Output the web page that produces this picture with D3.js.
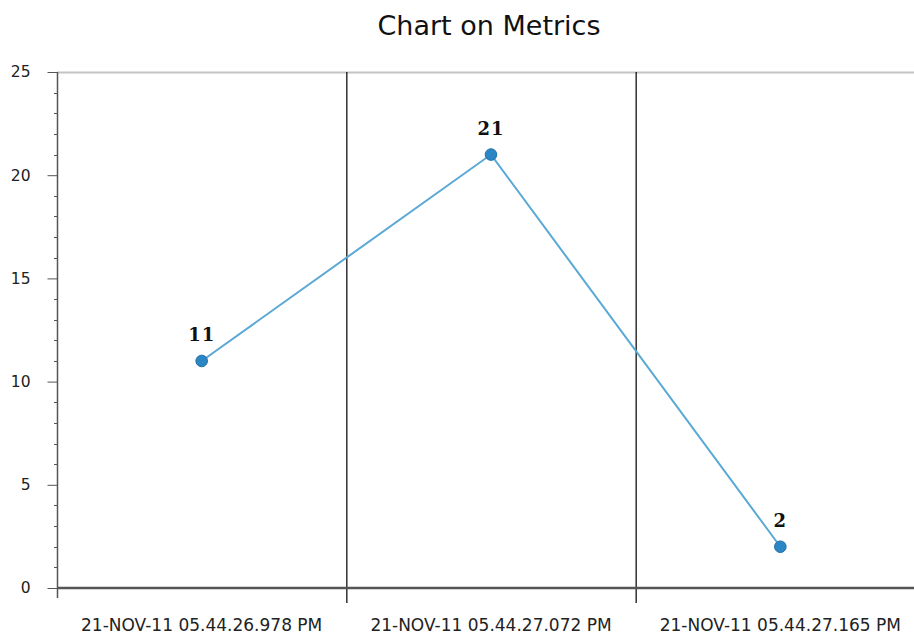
<!DOCTYPE html>
<html><head><meta charset="utf-8">
<script src="https://cdn.jsdelivr.net/npm/d3@7"></script>
<style>body{margin:0;background:#fff}svg{display:block}</style>
</head><body>
<svg id="c" width="914" height="637"></svg>
<script>
const categories = ["21-NOV-11 05.44.26.978 PM","21-NOV-11 05.44.27.072 PM","21-NOV-11 05.44.27.165 PM"];
const values = [11, 21, 2];
const yTicks = [0,5,10,15,20,25];
const title = "Chart on Metrics";

const svg = d3.select("#c");
const mLeft = 57, mRight = 925, mTop = 72, mBottom = 588;
const x = d3.scaleBand().domain(categories).range([mLeft, mRight]).paddingInner(0).paddingOuter(0);
const y = d3.scaleLinear().domain([0,25]).range([mBottom, mTop]);
const font = "'DejaVu Sans', Verdana, sans-serif";

svg.append("text").attr("x", 489).attr("y", 35).attr("text-anchor","middle")
  .attr("font-family", font).attr("font-size", 27).attr("fill","#111").text(title);

// top gray border
svg.append("line").attr("x1", mLeft).attr("x2", 914).attr("y1", mTop+0.5).attr("y2", mTop+0.5)
  .attr("stroke","#c4c4c4").attr("stroke-width",2);

// category dividers
const bounds = categories.slice(1).map(c => x(c));
svg.selectAll(".div").data(bounds).enter().append("line")
  .attr("x1", d=>d+0.5).attr("x2", d=>d+0.5).attr("y1", mTop).attr("y2", mBottom+15)
  .attr("stroke","#111").attr("stroke-width",1.3);

// y axis minor ticks
const minor = d3.range(0,26).filter(v => v%5!==0);
svg.selectAll(".mn").data(minor).enter().append("line")
  .attr("x1", mLeft-3).attr("x2", mLeft).attr("y1", d=>Math.round(y(d))+0.5).attr("y2", d=>Math.round(y(d))+0.5)
  .attr("stroke","#555").attr("stroke-width",1);

const yAxis = d3.axisLeft(y).tickValues(yTicks).tickSize(10).tickPadding(17).tickFormat(d3.format("d"));
const gy = svg.append("g").attr("transform", `translate(${mLeft+0.5},0)`).call(yAxis);
gy.select(".domain").attr("stroke","#555").attr("stroke-width",1.5).attr("d", `M0,${mTop}V${mBottom+10}`);
gy.selectAll(".tick line").attr("stroke","#555");
gy.selectAll("text").attr("font-family", font).attr("font-size", 15.5).attr("fill","#222");

// x axis
const xAxis = d3.axisBottom(x).tickSize(0).tickPadding(31);
const gx = svg.append("g").attr("transform", `translate(0,${mBottom})`).call(xAxis);
gx.select(".domain").remove();
gx.selectAll("text").attr("font-family", font).attr("font-size", 17).attr("fill","#222");
svg.append("line").attr("x1", mLeft).attr("x2", 914).attr("y1", mBottom).attr("y2", mBottom)
  .attr("stroke","#555").attr("stroke-width",2.5);

// series
const cx = d => x(d) + x.bandwidth()/2;
const line = d3.line().x((d,i)=>cx(categories[i])).y(d=>y(d));
svg.append("path").datum(values).attr("d", line).attr("fill","none")
  .attr("stroke","#59a8d6").attr("stroke-width",2);
svg.selectAll(".pt").data(values).enter().append("circle")
  .attr("cx",(d,i)=>cx(categories[i])).attr("cy", d=>y(d)).attr("r",5.8)
  .attr("fill","#2b86c4").attr("stroke","#1f6fa6").attr("stroke-width",1);
svg.selectAll(".lb").data(values).enter().append("text")
  .attr("x",(d,i)=>cx(categories[i])).attr("y", d=>y(d)-20).attr("text-anchor","middle")
  .attr("font-family","'DejaVu Serif', serif").attr("font-weight","bold").attr("font-size",18)
  .attr("letter-spacing", 1).attr("fill","#111").text(d=>d);
</script>
</body></html>
